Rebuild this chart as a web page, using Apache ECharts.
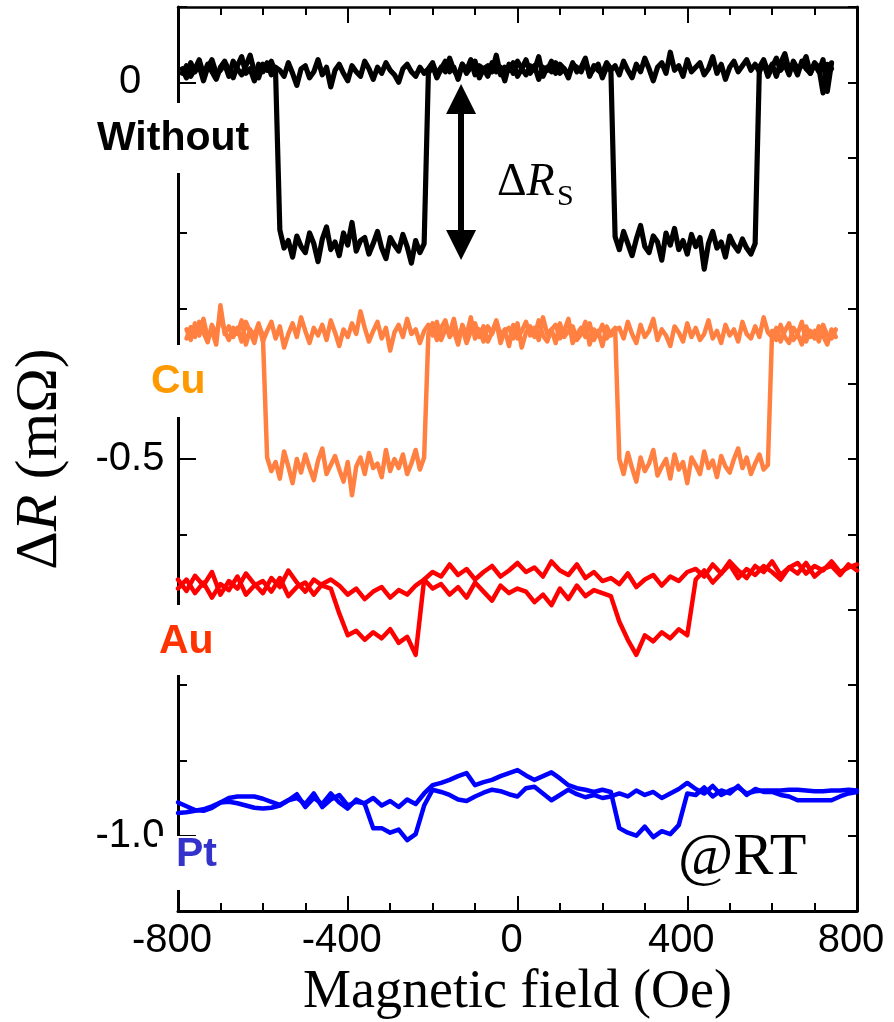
<!DOCTYPE html>
<html>
<head>
<meta charset="utf-8">
<script src="https://cdn.jsdelivr.net/npm/echarts@6/dist/echarts.min.js"></script>
<style>
html,body{margin:0;padding:0;background:#fff;}
#chart{width:894px;height:1022px;}
</style>
</head>
<body>
<div id="chart"></div>
<script>
// ---- Data (resistance change in micro-ohm, field in Oe) ----
const xTicks = [-800, -400, 0, 400, 800];
const xMajorInner = [-400, 0, 400];
const xMinorTicks = [-700, -600, -500, -300, -200, -100, 100, 200, 300, 500, 600, 700];
const yTickLabels = [0, -0.5, -1.0];
const labels = ['Without', 'Cu', 'Au', 'Pt'];

const withoutStart = -790, withoutStep = 10;
const withoutUp = [
12,22,8,18,30,10,24,14,4,20,28,16,6,22,34,12,18,2,24,14,26,10,20,
16,8,26,12,-4,18,22,6,14,30,10,20,-6,16,24,12,2,22,14,8,28,18,4,20,12,26,16,10,0,18,24,14,8,20,12,
18,26,10,20,14,32,16,8,24,12,20,28,6,18,22,14,36,10,20,16,26,8,18,30,12,22,4,20,16,28,12,24,18,10,26,14,20,32,8,22,16,12,26,18,
-205,-222,-198,-214,-230,-208,-190,-218,-226,-204,-212,-236,-200,-216,-194,-222,-210,-228,-202,-218,-206,-248,-214,-198,-220,-212,-232,-204,-216,-224,-208,-220,-228,-214,
20,30,14,24,8,26,38,16,22,10,28,18,12,24,14,30,-12,26
];
const withoutDown = [
18,6,26,14,22,2,20,30,12,16,24,8,28,18,10,22,36,14,6,24,16,28,12,
-196,-220,-210,-232,-204,-218,-226,-200,-214,-238,-208,-192,-222,-212,-230,-200,-216,-186,-224,-210,-206,-228,-214,-198,-220,-234,-206,-216,-224,-202,-218,-240,-210,-226,-214,
12,22,6,18,28,14,20,4,24,16,30,10,22,18,8,26,14,20,2,24,12,28,18,10,22,16,34,8,20,14,26,12,18,6,24,20,14,28,10,18,24,6,20,16,
22,10,28,16,6,24,14,32,18,2,20,26,12,40,16,22,8,30,14,20,26,10,18,34,12,24,4,20,28,14,22,30,16,24,
14,26,8,20,32,16,24,10,28,18,22,34,12,26,20,-14,24,18
];

const cuStart = -780, cuStep = 10;
const cuUp = [
-340,-325,-338,-318,-332,-345,-322,-336,-310,-330,-342,-326,-334,-316,-348,-328,-336,-320,-344,
-330,-318,-340,-324,-352,-334,-320,-338,-312,-330,-346,-326,-336,-322,-342,-316,-332,-350,-328,-338,-320,-334,-304,-326,-344,-330,-318,-340,-326,-356,-332,-322,-338,-314,-334,-328,-346,-330,
-322,-336,-318,-342,-328,-334,-314,-340,-326,-346,-330,-320,-338,-324,-344,-332,-316,-336,-328,-350,-322,-340,-330,-318,-336,-326,-342,-312,-334,-328,-346,-320,-338,-330,-324,-342,-334,-318,-348,-328,-336,-322,-340,-332,-326,
-500,-520,-492,-512,-530,-498,-516,-506,-488,-522,-510,-500,-526,-494,-514,-504,-532,-498,-508,-520,-490,-512,-502,-524,-496,-510,-518,-500,-486,-512,-498,-520,-506,-494,-514,-508,
-330,-342,-322,-338,-346,-326,-334,-318,-344,-330,-340,-324,-336,-348,-328,-338
];
const cuDown = [
-328,-342,-320,-336,-314,-340,-330,-348,-296,-334,-324,-338,-326,-344,-318,-332,-346,-322,-336,
-498,-516,-504,-526,-490,-510,-532,-500,-518,-494,-512,-528,-502,-486,-520,-508,-496,-514,-530,-504,-548,-510,-498,-520,-492,-512,-506,-524,-488,-516,-500,-512,-494,-520,-506,-488,-514,-498,
-334,-320,-342,-326,-316,-338,-330,-348,-322,-336,-312,-340,-328,-344,-324,-334,-318,-346,-330,-326,-340,-320,-352,-332,-324,-338,-316,-336,-344,-328,-322,-340,-330,-314,-346,-334,-326,-338,-320,-342,-330,-350,-324,-336,-328,
-326,-340,-318,-334,-346,-322,-338,-330,-314,-342,-328,-336,-350,-324,-332,-344,-320,-338,-326,-342,-334,-316,-340,-330,-346,-322,-336,-328,-344,-318,-334,-340,-324,-338,-312,-332,
-338,-326,-344,-330,-320,-342,-334,-348,-324,-338,-330,-344,-322,-336,-340,-328
];

const auStart = -800, auStep = 20;
const auUp = [
-672,-660,-678,-664,-684,-666,-674,-656,-680,-668,-662,-676,-658,-682,-670,-664,-680,-666,-660,
-668,-680,-672,-686,-676,-670,-684,-674,-680,-668,
-660,-672,-666,-680,-670,-684,-664,-676,-688,-668,-678,-672,
-676,-690,-680,-694,-672,-686,-668,-682,-674,-678,
-682,
-716,-740,-760,-734,-742,-730,-738,-726,-734,
-660,-648,-664,-652,-640,-658,-646,-654,-642,-650,-660,-644,-652,-638,-656,-646,-642,-654,-640,-648
];
const auDown = [
-660,-675,-655,-668,-650,-680,-662,-672,-652,-666,-678,-658,-670,-648,-664,-676,-660,-668,-672,
-705,
-734,-728,-740,-730,-738,-726,-744,-736,-760,
-660,-650,-656,-640,-654,-646,-660,-650,-642,-656,-648,-638,
-650,-644,-656,-636,-648,-654,-640,-658,-650,-662,
-658,-666,-652,-670,-660,-654,-668,-656,-662,-650,
-646,-656,-640,-652,-636,-648,-658,-642,-650,-636,-654,-644,-638,-652,-642,-648,-636,-650,-644,-640
];

const ptStart = -800, ptStep = 20;
const ptUp = [
-970,-969,-967,-965,-961,-956,-955,-957,-960,-963,-964,-963,-960,-953,
-950,-958,-944,-962,-952,-946,-960,-955,
-957,-950,-960,-954,-962,-952,-958,-944,
-933,-930,-926,-921,-917,-933,-929,-926,-921,-917,-913,-920,-926,-921,-916,-924,-933,-937,-939,-942,-939,-942,
-990,-996,-1000,-988,-1002,-994,-998,-986,-944,
-946,-936,-948,-940,-944,-934,-946,-938,-942,
-942,-946,-948,-953,-953,-953,-953,-953,-948,-944,-942
];
const ptDown = [
-956,-961,-966,-967,-963,-956,-950,-948,-948,-948,-951,-955,-959,-953,
-945,-962,-950,-958,-944,-956,-964,-952,
-958,-990,
-990,-996,-992,-1006,-998,-960,
-939,-942,-946,-952,-954,-948,-943,-939,-941,-945,-948,-937,-935,-944,-953,-946,-939,-945,-949,-946,-950,-948,
-944,-948,-940,-946,-942,-950,-944,-938,-930,
-938,-944,-934,-946,-940,-936,-944,-941,-940,
-940,-940,-939,-939,-940,-941,-941,-940,-940,-939,-940
];

const arrowField = -133, arrowTop = -0.022, arrowBottom = -0.216;

const Y_MIN = -1.1, Y_MAX = 0.1;
const MAJOR_LEN = 0.02, MINOR_LEN = 0.0105;   // tick lengths, in axis units

function toPairs(start, step, vals) {
  return vals.map((v, i) => [start + i * step, v / 1000]);
}

// tick marks along the bottom and top frame, built from the tick value arrays
function frameTicks() {
  const out = [];
  const add = (vals, len) => vals.forEach(v => {
    out.push([{coord: [v, Y_MIN]}, {coord: [v, Y_MIN + len]}]);
    out.push([{coord: [v, Y_MAX]}, {coord: [v, Y_MAX - len]}]);
  });
  add(xMajorInner, MAJOR_LEN);
  add(xMinorTicks, MINOR_LEN);
  return out;
}

const chart = echarts.init(document.getElementById('chart'));

function lineSeries(name, data, color, width, extra) {
  return Object.assign({
    name: name, type: 'line', data: data, showSymbol: false, symbol: 'none',
    animation: false, silent: true,
    lineStyle: {color: color, width: width, join: 'round', cap: 'round'},
    z: 3
  }, extra || {});
}

const black = '#000000', cuColor = '#FF8040', auColor = '#FF0000', ptColor = '#0000FF';

function ts() { return {color: '#000', width: 2}; }
const series = [
  lineSeries('Pt up', toPairs(ptStart, ptStep, ptUp), ptColor, 4.5, {
    markLine: {
      silent: true, animation: false, symbol: ['none', 'none'],
      label: {show: false},
      lineStyle: {color: '#000', width: 2, type: 'solid'},
      emphasis: {disabled: true},
      data: frameTicks()
    }
  }),
  lineSeries('Pt down', toPairs(ptStart, ptStep, ptDown), ptColor, 4.5),
  lineSeries('Au up', toPairs(auStart, auStep, auUp), auColor, 4.5),
  lineSeries('Au down', toPairs(auStart, auStep, auDown), auColor, 4.5),
  lineSeries('Cu up', toPairs(cuStart, cuStep, cuUp), cuColor, 4.5),
  lineSeries('Cu down', toPairs(cuStart, cuStep, cuDown), cuColor, 4.5),
  lineSeries('Without up', toPairs(withoutStart, withoutStep, withoutUp), black, 5.2),
  lineSeries('Without down', toPairs(withoutStart, withoutStep, withoutDown), black, 5.2, {
    markLine: {
      silent: true, animation: false,
      symbol: ['triangle', 'triangle'], symbolSize: [30, 30],
      label: {show: false},
      lineStyle: {color: '#000', width: 6, type: 'solid'},
      data: [[{coord: [arrowField, arrowTop]}, {coord: [arrowField, arrowBottom]}]]
    }
  })
];

const option = {
  animation: false,
  grid: {left: 178, right: 37, top: 7, bottom: 111, outerBoundsMode: 'none'},
  xAxis: [
    {
      type: 'value', min: -800, max: 800, interval: 400, position: 'bottom', z: 10,
      axisLine: {onZero: false, lineStyle: {color: '#000', width: 3}},
      axisTick: {show: true, inside: true, length: 15, lineStyle: ts()},
      minorTick: {show: true, splitNumber: 4, length: 8, lineStyle: ts()},
      splitLine: {show: false},
      axisLabel: {fontSize: 40, color: '#000', fontFamily: 'Liberation Sans', margin: 10, padding: [0, 12, 0, 0],
        formatter: v => (xTicks.indexOf(v) >= 0 ? String(v) : '')},
      name: 'Magnetic field (Oe)', nameLocation: 'middle', nameGap: 50,
      nameTextStyle: {fontFamily: 'Liberation Serif', fontSize: 54, color: '#000'}
    },
    {
      type: 'value', min: -800, max: 800, interval: 400, position: 'top', z: 10,
      axisLine: {onZero: false, lineStyle: {color: '#000', width: 2.5}},
      axisTick: {show: true, inside: true, length: 16, lineStyle: ts()},
      minorTick: {show: true, splitNumber: 4, length: 8, lineStyle: ts()},
      splitLine: {show: false}, axisLabel: {show: false}
    }
  ],
  yAxis: [
    {
      type: 'value', min: Y_MIN, max: Y_MAX, interval: 0.1, position: 'left',
      axisLine: {onZero: false, lineStyle: {color: '#000', width: 3}},
      axisTick: {inside: true, length: 9, lineStyle: ts()},
      splitLine: {show: false},
      axisLabel: {fontSize: 40, color: '#000', fontFamily: 'Liberation Sans', margin: 48, align: 'center',
        formatter: function (v) {
          const r = Math.round(v * 10) / 10;
          for (const t of yTickLabels) { if (Math.abs(r - t) < 1e-6) return t === 0 ? '0' : t.toFixed(1); }
          return '';
        }},
      name: '{a|Δ}{b|R}{a| (mΩ)}', nameLocation: 'middle', nameGap: 108, nameRotate: 90,
      nameTextStyle: {
        rich: {
          a: {fontFamily: 'Liberation Serif', fontSize: 60, color: '#000'},
          b: {fontFamily: 'Liberation Serif', fontSize: 60, fontStyle: 'italic', color: '#000'}
        }
      }
    },
    {
      type: 'value', min: Y_MIN, max: Y_MAX, interval: 0.1, position: 'right',
      axisLine: {onZero: false, lineStyle: {color: '#000', width: 3}},
      axisTick: {inside: true, length: 9, lineStyle: ts()},
      splitLine: {show: false}, axisLabel: {show: false}
    },
    {
      type: 'value', min: Y_MIN, max: Y_MAX, interval: 0.1, position: 'left',
      axisLine: {show: false, onZero: false},
      axisTick: {inside: true, length: 18, lineStyle: ts(), customValues: yTickLabels},
      splitLine: {show: false}, axisLabel: {show: false}
    }
  ],
  graphic: [
    {type: 'rect', z: 50, shape: {x: 88, y: 103, width: 172, height: 70}, style: {fill: '#fff'}},
    {type: 'rect', z: 50, shape: {x: 145, y: 345, width: 68, height: 72}, style: {fill: '#fff'}},
    {type: 'rect', z: 50, shape: {x: 153, y: 605, width: 68, height: 70}, style: {fill: '#fff'}},
    {type: 'rect', z: 50, shape: {x: 157, y: 836, width: 64, height: 54}, style: {fill: '#fff'}},
    {type: 'text', z: 51, x: 97, y: 139, style: {text: labels[0], font: 'bold 41px "Liberation Sans"', fill: '#000', align: 'left', verticalAlign: 'middle'}},
    {type: 'text', z: 51, x: 151, y: 382, style: {text: labels[1], font: 'bold 41px "Liberation Sans"', fill: '#FF9900', align: 'left', verticalAlign: 'middle'}},
    {type: 'text', z: 51, x: 159, y: 642, style: {text: labels[2], font: 'bold 41px "Liberation Sans"', fill: '#FF3300', align: 'left', verticalAlign: 'middle'}},
    {type: 'text', z: 51, x: 176, y: 855, style: {text: labels[3], font: 'bold 41px "Liberation Sans"', fill: '#3333CC', align: 'left', verticalAlign: 'middle'}},
    {type: 'text', z: 51, x: 678, y: 858, style: {text: '@RT', font: '60px "Liberation Serif"', fill: '#000', align: 'left', verticalAlign: 'middle'}},
    {type: 'text', z: 51, x: 497, y: 183, style: {
      text: '{a|Δ}{b|R}', fill: '#000', align: 'left', verticalAlign: 'middle',
      rich: {a: {fontFamily: 'Liberation Serif', fontSize: 46}, b: {fontFamily: 'Liberation Serif', fontSize: 46, fontStyle: 'italic'}}
    }},
    {type: 'text', z: 51, x: 557, y: 197, style: {text: 'S', font: '30px "Liberation Serif"', fill: '#000', align: 'left', verticalAlign: 'middle'}}
  ],
  series: series
};
chart.setOption(option);
</script>
</body>
</html>
